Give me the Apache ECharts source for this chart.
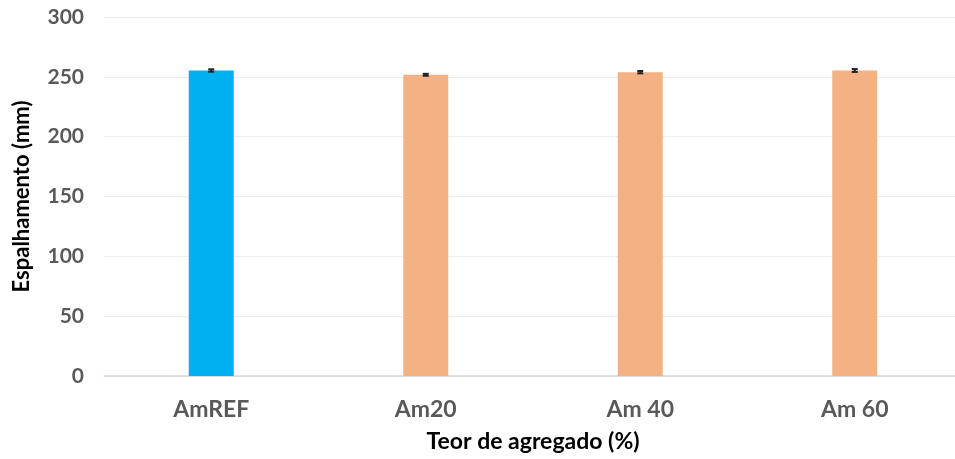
<!DOCTYPE html>
<html>
<head>
<meta charset="utf-8">
<script src="https://cdn.jsdelivr.net/npm/echarts@6/dist/echarts.min.js"></script>
<style>
  html, body { margin: 0; padding: 0; background: #fff; }
  #chart { width: 955px; height: 459px; }
</style>
</head>
<body>
<div id="chart"></div>
<script>
// Spreading (mm) per aggregate content
const categories = ['AmREF', 'Am20', 'Am 40', 'Am 60'];
const spreadValues = [255.3, 251.7, 253.9, 255.3];
const spreadErrors = [1.0, 0.8, 1.0, 1.2];
const barColors = ['#00B0F0', '#F4B183', '#F4B183', '#F4B183'];
const yTicks = { min: 0, max: 300, interval: 50 };

const chart = echarts.init(document.getElementById('chart'));
const font = 'Lato, "Open Sans", sans-serif';

chart.setOption({
  animation: false,
  grid: {
    left: 104, top: 17, width: 858, height: 359,
    containLabel: false,
    outerBoundsMode: 'none'
  },
  xAxis: {
    type: 'category',
    data: categories,
    axisTick: { show: false },
    axisLine: { lineStyle: { color: '#d9d9d9', width: 1.5 } },
    axisLabel: { color: '#595959', fontFamily: font, fontWeight: 'bold', fontSize: 23, margin: 22 },
    name: 'Teor de agregado (%)',
    nameLocation: 'middle',
    nameGap: 54,
    nameTextStyle: { color: '#000', fontFamily: font, fontWeight: 'bold', fontSize: 23 }
  },
  yAxis: {
    type: 'value',
    min: yTicks.min,
    max: yTicks.max,
    interval: yTicks.interval,
    axisLine: { show: false },
    axisTick: { show: false },
    splitLine: { lineStyle: { color: '#ededed', width: 1.2 } },
    axisLabel: { color: '#595959', fontFamily: font, fontWeight: 'bold', fontSize: 21, margin: 20 },
    name: 'Espalhamento (mm)',
    nameLocation: 'middle',
    nameGap: 71,
    nameRotate: 90,
    nameTextStyle: { color: '#000', fontFamily: font, fontWeight: 'bold', fontSize: 22 }
  },
  series: [
    {
      type: 'bar',
      barWidth: 45,
      data: spreadValues.map((v, i) => ({ value: v, itemStyle: { color: barColors[i] } }))
    },
    {
      type: 'custom',
      z: 10,
      data: spreadValues.map((v, i) => [i, v - spreadErrors[i], v + spreadErrors[i]]),
      renderItem: function (params, api) {
        const lo = api.coord([api.value(0), api.value(1)]);
        const hi = api.coord([api.value(0), api.value(2)]);
        const half = 3;
        const style = { stroke: '#222', lineWidth: 2 };
        return {
          type: 'group',
          children: [
            { type: 'line', shape: { x1: hi[0], y1: hi[1], x2: lo[0], y2: lo[1] }, style },
            { type: 'line', shape: { x1: hi[0] - half, y1: hi[1], x2: hi[0] + half, y2: hi[1] }, style },
            { type: 'line', shape: { x1: lo[0] - half, y1: lo[1], x2: lo[0] + half, y2: lo[1] }, style }
          ]
        };
      }
    }
  ]
});
</script>
</body>
</html>
